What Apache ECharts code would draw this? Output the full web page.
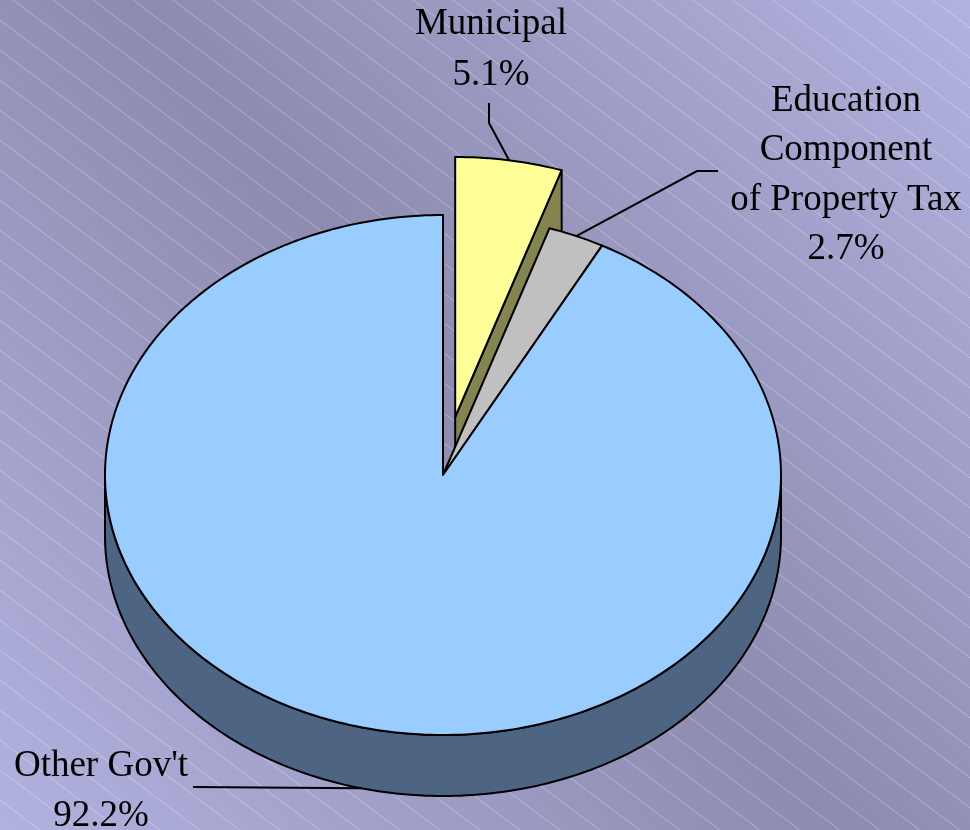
<!DOCTYPE html>
<html>
<head>
<meta charset="utf-8">
<title>Revenue share</title>
<script src="https://cdn.jsdelivr.net/npm/echarts@6/dist/echarts.min.js"></script>
<style>
  html, body { margin: 0; padding: 0; background: #9a99c2; }
  #chart { width: 970px; height: 830px; }
</style>
</head>
<body>
<div id="chart"></div>
<script>
// Slice names (line breaks as they are set on the chart), shares in percent
const categories = ['Municipal', 'Education\nComponent\nof Property Tax', "Other Gov't"];
const shares = [5.1, 2.7, 92.2];
// How far each slice is pulled out of the pie (fraction of the radius)
const pulled = [0.226, 0, 0];

// Styling
const topColors = ['#FFFF99', '#C0C0C0', '#99CCFF'];
const wallColors = ['#84844f', '#8a8a8a', '#4d6482'];

// Geometry of the tilted pie: centre of the top face, ellipse radii and thickness
const PIE = { cx: 443, cy: 475, rx: 338, ry: 260, depth: 61 };

// Label placement: centre x, first line baseline, line gap and leader elbow points
const LABELS = [
  { x: 491, base: 35, gap: 51, elbow: [[489, 103], [489, 123]], onBottom: false },
  { x: 846, base: 112, gap: 49.4, elbow: [[718, 171], [697, 171]], onBottom: false },
  { x: 101, base: 777, gap: 50, elbow: [[193, 787]], onBottom: true }
];
const FONT_SIZE = 37;
const FONT = FONT_SIZE + 'px "Liberation Serif", "Times New Roman", serif';

const total = shares.reduce((a, b) => a + b, 0);
const starts = [];
(function () {
  let acc = 0;
  shares.forEach(v => { starts.push(acc / total * 360); acc += v; });
})();

const rad = d => d * Math.PI / 180;

function point(angle, off, dz) {
  return [
    PIE.cx + off[0] + PIE.rx * Math.sin(rad(angle)),
    PIE.cy + off[1] - PIE.ry * Math.cos(rad(angle)) + dz
  ];
}

function arc(a0, a1, off, dz) {
  const pts = [];
  const n = Math.max(2, Math.ceil(Math.abs(a1 - a0) / 1));
  for (let i = 0; i <= n; i++) {
    pts.push(point(a0 + (a1 - a0) * i / n, off, dz));
  }
  return pts;
}

const outline = { stroke: '#000', lineWidth: 2, lineJoin: 'round' };

function renderSlice(params) {
  const i = params.dataIndex;
  const a0 = starts[i];
  const a1 = a0 + shares[i] / total * 360;
  const mid = (a0 + a1) / 2;
  const off = [
    pulled[i] * PIE.rx * Math.sin(rad(mid)),
    -pulled[i] * PIE.ry * Math.cos(rad(mid))
  ];
  const c = [PIE.cx + off[0], PIE.cy + off[1]];
  const d = PIE.depth;
  const children = [];

  // Outer rim facing the viewer (front half of the ellipse)
  const lo = Math.max(a0, 90), hi = Math.min(a1, 270);
  if (hi > lo) {
    const pts = arc(lo, hi, off, 0).concat(arc(hi, lo, off, d));
    children.push({ type: 'polygon', shape: { points: pts },
      style: Object.assign({ fill: wallColors[i] }, outline) });
  }
  // Cut face along the closing edge of the slice
  const endMod = ((a1 % 360) + 360) % 360;
  if (endMod > 0 && endMod < 180) {
    const p = point(a1, off, 0);
    children.push({ type: 'polygon',
      shape: { points: [c, p, [p[0], p[1] + d], [c[0], c[1] + d]] },
      style: Object.assign({ fill: wallColors[i] }, outline) });
  }
  // Cut face along the opening edge of the slice
  const startMod = ((a0 % 360) + 360) % 360;
  if (startMod > 180 && startMod < 360) {
    const p = point(a0, off, 0);
    children.push({ type: 'polygon',
      shape: { points: [c, p, [p[0], p[1] + d], [c[0], c[1] + d]] },
      style: Object.assign({ fill: wallColors[i] }, outline) });
  }
  // Top face
  children.push({ type: 'polygon',
    shape: { points: [c].concat(arc(a0, a1, off, 0)) },
    style: Object.assign({ fill: topColors[i] }, outline) });

  // Leader line and label
  const lab = LABELS[i];
  const anchor = point(mid, off, lab.onBottom ? d : 0);
  children.push({ type: 'polyline',
    shape: { points: lab.elbow.concat([anchor]) },
    style: { stroke: '#000', lineWidth: 2, fill: null } });

  const lines = categories[i].split('\n').concat([shares[i].toFixed(1) + '%']);
  lines.forEach((t, k) => {
    children.push({ type: 'text',
      x: lab.x, y: lab.base + k * lab.gap - 11,
      style: { text: t, font: FONT, fill: '#000',
        align: 'center', verticalAlign: 'middle',
        textAlign: 'center', textVerticalAlign: 'middle' } });
  });

  return { type: 'group', children: children };
}

// Background: diagonal gradient with fine white hatching
const W = 970, H = 830;
const bg = [{
  type: 'rect', z: -20, silent: true,
  shape: { x: 0, y: 0, width: W, height: H },
  style: { fill: new echarts.graphic.LinearGradient(1, 0, 0, 1, [
    { offset: 0, color: '#b2b2e0' },
    { offset: 0.5, color: '#8d8baf' },
    { offset: 1, color: '#b2b2e0' }
  ]) }
}];
const slope = 0.75, step = 40, phase = 13;
for (let k = -30; k <= 26; k++) {
  const x0 = phase + k * step;
  bg.push({ type: 'line', z: -19, silent: true,
    shape: { x1: x0, y1: 0, x2: x0 + H / slope, y2: H },
    style: { stroke: 'rgba(255,255,255,0.32)', lineWidth: 1 } });
}

const chart = echarts.init(document.getElementById('chart'), null, { renderer: 'canvas' });
chart.setOption({
  animation: false,
  graphic: { elements: bg },
  series: [{
    type: 'custom',
    coordinateSystem: 'none',
    silent: true,
    renderItem: renderSlice,
    data: shares.map((v, i) => ({ name: categories[i], value: v }))
  }]
});
</script>
</body>
</html>
